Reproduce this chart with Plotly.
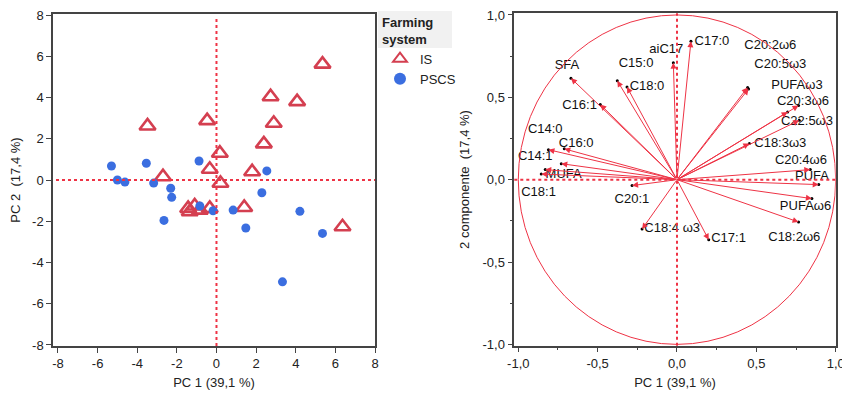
import plotly.graph_objects as go

# ---------------- Left plot: PCA scores ----------------
is_pc1 = [5.35, 2.73, 4.07, 2.89, -3.48, -0.47, 2.39, 0.17, -0.34, -2.70, 1.80, 0.20,
          6.36, 1.40, -0.34, -1.43, -1.10, -1.35, -0.84]
is_pc2 = [5.62, 4.04, 3.80, 2.75, 2.62, 2.88, 1.75, 1.30, 0.52, 0.16, 0.40, -0.16,
          -2.27, -1.33, -1.38, -1.38, -1.26, -1.54, -1.46]

pscs_pc1 = [-5.30, -5.00, -4.62, -3.54, -3.17, -2.31, -2.26, -0.88, 2.54, 2.29,
            -2.65, -0.84, -0.17, 0.84, 1.48, 4.21, 5.35, 3.33]
pscs_pc2 = [0.68, 0.00, -0.10, 0.81, -0.15, -0.40, -0.84, 0.92, 0.44, -0.62,
            -1.96, -1.26, -1.49, -1.46, -2.33, -1.52, -2.59, -4.94]

left_ticks = [-8, -6, -4, -2, 0, 2, 4, 6, 8]
left_ticktext = ["-8", "-6", "-4", "-2", "0", "2", "4", "6", "8"]

# ---------------- Right plot: loadings ----------------
var_names = ["C17:0", "aiC17", "SFA", "C15:0", "C18:0", "C16:1", "C20:2ω6", "C20:5ω3",
             "PUFAω3", "C20:3ω6", "C22:5ω3", "C18:3ω3", "C20:4ω6", "PUFA", "PUFAω6",
             "C18:2ω6", "C17:1", "C18:4 ω3", "C20:1", "C14:0", "C16:0", "C14:1",
             "MUFA", "C18:1"]
load_pc1 = [0.088, -0.023, -0.668, -0.376, -0.315, -0.483, 0.451, 0.445,
            0.697, 0.766, 0.770, 0.456, 0.840, 0.893, 0.850,
            0.766, 0.200, -0.220, -0.283, -0.810, -0.710, -0.729,
            -0.830, -0.855]
load_pc2 = [0.840, 0.710, 0.616, 0.600, 0.563, 0.456, 0.551, 0.560,
            0.411, 0.450, 0.360, 0.219, 0.061, -0.030, -0.115,
            -0.257, -0.365, -0.300, -0.036, 0.182, 0.187, 0.097,
            0.061, 0.034]
label_x = [0.22, -0.067, -0.693, -0.258, -0.189, -0.614, 0.588, 0.651,
           0.756, 0.794, 0.819, 0.651, 0.781, 0.851, 0.810,
           0.739, 0.325, -0.03, -0.284, -0.83, -0.635, -0.893,
           -0.714, -0.872]
label_y = [0.84, 0.786, 0.693, 0.705, 0.563, 0.45, 0.81, 0.70,
           0.571, 0.476, 0.351, 0.219, 0.117, 0.016, -0.166,
           -0.355, -0.36, -0.298, -0.122, 0.304, 0.217, 0.142,
           0.03, -0.081]

right_ticks = [-1.0, -0.5, 0.0, 0.5, 1.0]
right_ticktext = ["-1,0", "-0,5", "0,0", "0,5", "1,0"]

RED = "#d43f50"
BLUE = "#3b6ee0"
LINE_RED = "#ee3345"
FONT = "Liberation Sans, Arial, sans-serif"

# page body has an 8px margin: figure fills the rest of the 850x393 window
W, H, OFF = 842, 385, 8


def fx(p):
    return (p - OFF) / W


def fy(p):
    return 1 - (p - OFF) / H


fig = go.Figure()

fig.add_trace(go.Scatter(
    x=is_pc1, y=is_pc2, mode="markers", name="IS",
    marker=dict(symbol="triangle-up-open", size=14, color=RED, line=dict(width=2.6, color=RED)),
    xaxis="x", yaxis="y"))
fig.add_trace(go.Scatter(
    x=pscs_pc1, y=pscs_pc2, mode="markers", name="PSCS",
    marker=dict(symbol="circle", size=9, color=BLUE),
    xaxis="x", yaxis="y"))

# loading endpoints (black dots)
fig.add_trace(go.Scatter(
    x=load_pc1, y=load_pc2, mode="markers", showlegend=False,
    marker=dict(size=3, color="black"), xaxis="x2", yaxis="y2"))
# labels
fig.add_trace(go.Scatter(
    x=label_x, y=label_y, mode="text", text=var_names, showlegend=False,
    textfont=dict(family=FONT, size=13, color="#111"), xaxis="x2", yaxis="y2"))

annotations = []
for xv, yv in zip(load_pc1, load_pc2):
    annotations.append(dict(
        x=xv, y=yv, ax=0, ay=0, xref="x2", yref="y2", axref="x2", ayref="y2",
        text="", showarrow=True, arrowhead=2, arrowsize=1.2, arrowwidth=1,
        arrowcolor=LINE_RED))

L_DOM_X = [fx(53), fx(375)]
L_DOM_Y = [fy(346), fy(14)]
R_DOM_X = [fx(514.3), fx(835.7)]
R_DOM_Y = [fy(345.7), fy(13.3)]

shapes = [
    # left zero lines
    dict(type="line", xref="x", yref="paper", x0=0, x1=0, y0=L_DOM_Y[0], y1=fy(19),
         line=dict(color=LINE_RED, width=2, dash="dot")),
    dict(type="line", xref="paper", yref="y", x0=fx(56), x1=L_DOM_X[1], y0=0, y1=0,
         line=dict(color=LINE_RED, width=2, dash="dot")),
    # right zero lines
    dict(type="line", xref="x2", yref="paper", x0=0, x1=0, y0=R_DOM_Y[0], y1=R_DOM_Y[1],
         line=dict(color=LINE_RED, width=2, dash="dot")),
    dict(type="line", xref="paper", yref="y2", x0=R_DOM_X[0], x1=R_DOM_X[1], y0=0, y1=0,
         line=dict(color=LINE_RED, width=2, dash="dot")),
    # unit circle
    dict(type="circle", xref="x2", yref="y2", x0=-1, x1=1, y0=-1, y1=1,
         line=dict(color=LINE_RED, width=1)),
    # legend title background
    dict(type="rect", xref="paper", yref="paper", x0=fx(378), x1=fx(452),
         y0=fy(48), y1=fy(11), fillcolor="#f1f1f1", line=dict(width=0),
         layer="below"),
]

axis_common = dict(
    showgrid=False, zeroline=False, showline=True, linecolor="#444", linewidth=1.5,
    mirror=True, ticks="outside", ticklen=5, tickcolor="#444", automargin=False,
    ticklabeloverflow="allow",
    tickfont=dict(family=FONT, size=13, color="#222"),
)

fig.update_layout(
    width=W, height=H,
    margin=dict(l=0, r=0, t=0, b=0, autoexpand=False),
    plot_bgcolor="white", paper_bgcolor="white",
    font=dict(family=FONT, size=13, color="#222"),
    xaxis=dict(domain=L_DOM_X, range=[-8.25, 8], tickvals=left_ticks,
               ticktext=left_ticktext, anchor="y",
               title=dict(text="PC 1 (39,1 %)", standoff=8, font=dict(size=13)), **axis_common),
    yaxis=dict(domain=L_DOM_Y, range=[-8.05, 8.05], tickvals=left_ticks,
               ticktext=left_ticktext, anchor="x",
               title=dict(text="PC 2  (17,4 %)", standoff=11, font=dict(size=13)), **axis_common),
    xaxis2=dict(domain=R_DOM_X, range=[-1.025, 1.0], tickvals=right_ticks,
                ticktext=right_ticktext, anchor="y2",
                minor=dict(dtick=0.25, ticks="outside", ticklen=3, tickcolor="#444"),
                title=dict(text="PC 1 (39,1 %)", standoff=8, font=dict(size=13)), **axis_common),
    yaxis2=dict(domain=R_DOM_Y, range=[-1.008, 1.01], tickvals=right_ticks,
                ticktext=right_ticktext, anchor="x2",
                minor=dict(dtick=0.25, ticks="outside", ticklen=3, tickcolor="#444"),
                title=dict(text="2 componente  (17,4 %)", standoff=10, font=dict(size=13)),
                **axis_common),
    legend=dict(x=fx(380), y=fy(10), xanchor="left", yanchor="top",
                bgcolor="rgba(0,0,0,0)",
                title=dict(text="<b>Farming<br>system</b>", font=dict(size=13)),
                font=dict(size=13), tracegroupgap=0, itemsizing="constant"),
    shapes=shapes,
    annotations=annotations,
)

fig.write_html("out.html")
